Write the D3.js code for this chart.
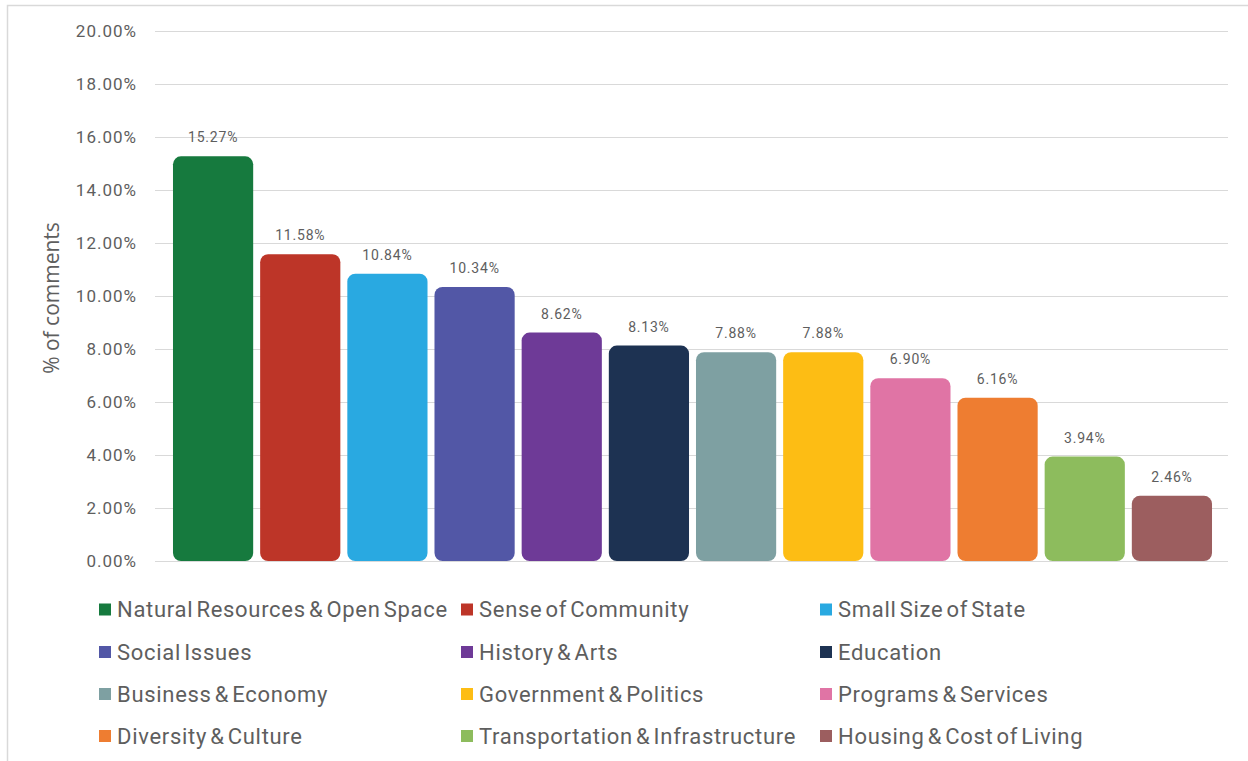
<!DOCTYPE html>
<html>
<head>
<meta charset="utf-8">
<script src="https://cdn.jsdelivr.net/npm/d3@7"></script>
<style>
  html, body { margin: 0; padding: 0; background: #fff; }
  svg { display: block; }
</style>
</head>
<body>
<svg id="chart" width="1248" height="761"></svg>
<script>
// Share of comments by topic
const categories = [
  "Natural Resources & Open Space",
  "Sense of Community",
  "Small Size of State",
  "Social Issues",
  "History & Arts",
  "Education",
  "Business & Economy",
  "Government & Politics",
  "Programs & Services",
  "Diversity & Culture",
  "Transportation & Infrastructure",
  "Housing & Cost of Living"
];
const values = [15.27, 11.58, 10.84, 10.34, 8.62, 8.13, 7.88, 7.88, 6.90, 6.16, 3.94, 2.46];
const colors = [
  "#167a3e", "#bd3528", "#29a9e1", "#5257a6", "#6e3a97", "#1d3252",
  "#7ea0a2", "#fdbd14", "#e074a5", "#ee7d31", "#8dbc5d", "#9c5e5f"
];
const yTicks = [0, 2, 4, 6, 8, 10, 12, 14, 16, 18, 20];
const yTitle = "% of comments";

const svg = d3.select("#chart");
const textColor = "#5e5e5e";
const numFont = "Roboto, 'Noto Sans', sans-serif";

// frame
svg.append("rect")
  .attr("x", 7.5).attr("y", 5.5)
  .attr("width", 1260).attr("height", 800)
  .attr("fill", "none").attr("stroke", "#d9d9d9").attr("stroke-width", 1.5);

const y = d3.scaleLinear().domain([0, 20]).range([561, 31]);
const x = d3.scaleBand().domain(categories).range([169.5, 1215.5]).paddingInner(0.08).paddingOuter(0.04);

// gridlines and tick labels
const gridX0 = 155, gridX1 = 1228;
const yAxis = d3.axisLeft(y)
  .tickValues(yTicks)
  .tickSize(-(gridX1 - gridX0))
  .tickPadding(18)
  .tickFormat(d => d3.format(".2f")(d) + "%");

const gAxis = svg.append("g")
  .attr("transform", `translate(${gridX0},0)`)
  .call(yAxis);
gAxis.select(".domain").remove();
gAxis.selectAll(".tick line").attr("stroke", "#d9d9d9").attr("stroke-width", 1.2);
gAxis.selectAll(".tick text")
  .attr("fill", textColor)
  .style("font-family", numFont)
  .style("font-size", "17px")
  .style("letter-spacing", "1px");

// axis title
svg.append("text")
  .attr("transform", "translate(59,298) rotate(-90)")
  .attr("text-anchor", "middle")
  .attr("fill", textColor)
  .style("font-family", "'Open Sans', sans-serif")
  .style("font-size", "21px")
  .text(yTitle);

// bars
const data = categories.map((c, i) => ({ c, v: values[i], col: colors[i] }));
svg.append("g").selectAll("rect")
  .data(data)
  .join("rect")
  .attr("x", d => x(d.c))
  .attr("y", d => y(d.v))
  .attr("width", x.bandwidth())
  .attr("height", d => y(0) - y(d.v))
  .attr("rx", 8).attr("ry", 8)
  .attr("fill", d => d.col);

// value labels
svg.append("g").selectAll("text")
  .data(data)
  .join("text")
  .attr("x", d => x(d.c) + x.bandwidth() / 2)
  .attr("y", d => y(d.v) - 14)
  .attr("text-anchor", "middle")
  .attr("fill", textColor)
  .style("font-family", numFont)
  .style("font-size", "14px")
  .style("letter-spacing", "0.8px")
  .text(d => d3.format(".2f")(d.v) + "%");

// legend: 3 columns, row-major
const legColX = [99, 461, 820];
const legRowY = [609.5, 652, 694, 736];
const leg = svg.append("g").selectAll("g")
  .data(data)
  .join("g")
  .attr("transform", (d, i) => `translate(${legColX[i % 3]},${legRowY[Math.floor(i / 3)]})`);
leg.append("rect")
  .attr("x", 0).attr("y", -6)
  .attr("width", 12).attr("height", 12)
  .attr("fill", d => d.col);
leg.append("text")
  .attr("x", 18).attr("y", 0)
  .attr("dy", "0.35em")
  .attr("fill", textColor)
  .style("font-family", numFont)
  .style("font-size", "22px")
  .style("letter-spacing", "0.7px")
  .style("word-spacing", "-3px")
  .text(d => d.c);
</script>
</body>
</html>
